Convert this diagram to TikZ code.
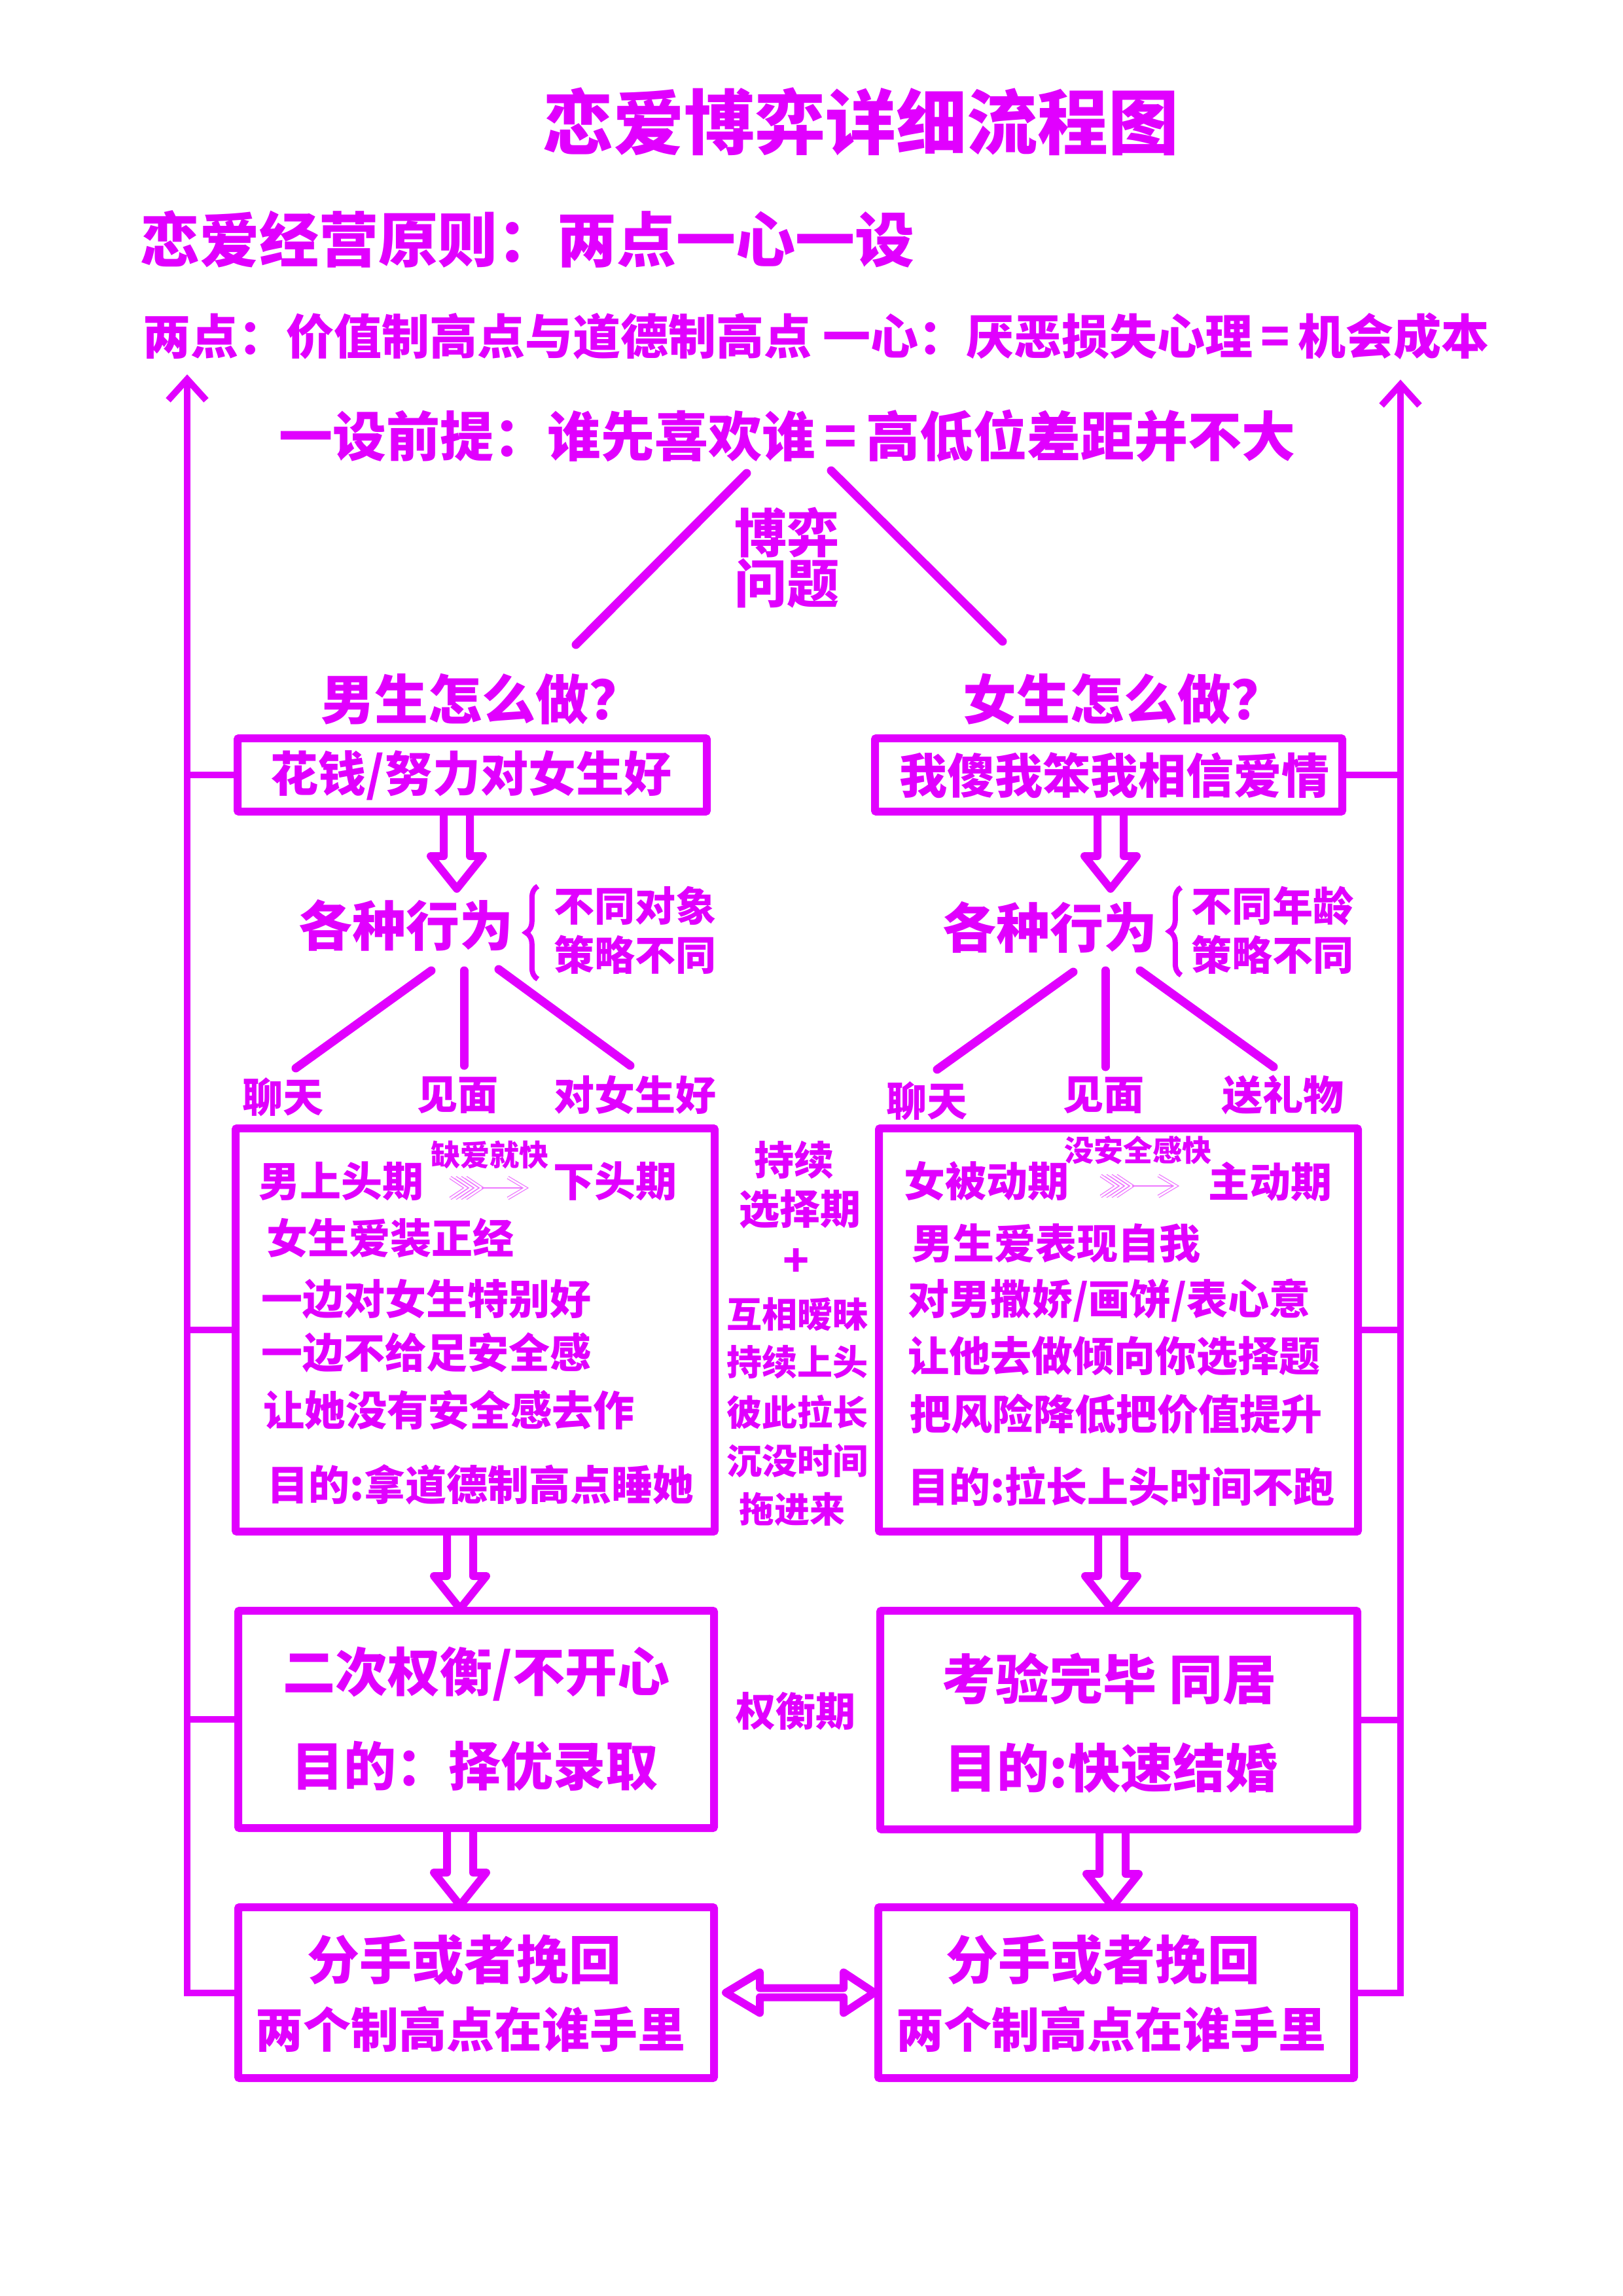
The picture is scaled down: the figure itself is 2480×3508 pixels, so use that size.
\documentclass[tikz,border=0pt]{standalone}
\usepackage{fontspec}
\setmainfont{Noto Sans CJK SC}[BoldFont={Noto Sans CJK SC Black}]
\usetikzlibrary{arrows.meta,decorations.pathreplacing,calc}
\definecolor{mag}{RGB}{225,0,255}
\definecolor{lmag}{RGB}{238,120,255}
\newcommand{\myfs}[1]{\fontsize{#1}{#1}\selectfont}
\begin{document}
\begin{tikzpicture}[x=1pt,y=-1pt,
  t/.style={inner sep=0pt, text=mag, font=\bfseries\myfs{#1}},
  box/.style={draw=mag, line width=12pt, inner sep=0pt, rounded corners=2pt},
  side/.style={draw=mag, line width=10pt},
  br/.style={draw=mag, line width=13pt, line cap=round},
  blk/.style={draw=mag, line width=12pt, line join=round, line cap=round},
  feath/.style={draw=lmag, line width=1.3pt, double=white, double distance=2.6pt},
  blockdown/.pic={\draw[blk] (-20,0) -- (-20,62) -- (-40,62) -- (0,112) -- (40,62) -- (20,62) -- (20,0);},
  feather/.pic={
    \foreach \i in {0,1,2,3} {\draw[feath] (8*\i,-16) -- (8*\i+24,0) -- (8*\i,16);}
    \draw[lmag, line width=2pt] (48,0) -- (114,0);
    \draw[feath] (88,-16) -- (115,0) -- (88,16);
  }
]
\fill[white] (0,0) rectangle (2480,3508);
\useasboundingbox (0,0) rectangle (2480,3508);

% header texts
\node[t=108] (title) at (1315,186) {恋爱博弈详细流程图};
\node[t=91, anchor=west] (principle) at (214,365) {恋爱经营原则：两点一心一设};
\node[t=73] (twopts) at (1247,514) {两点：价值制高点与道德制高点 一心：厌恶损失心理\,=\,机会成本};
\node[t=82] (premise) at (1203,666) {一设前提：谁先喜欢谁\,=\,高低位差距并不大};
\node[t=80, align=center, font=\bfseries\fontsize{80}{74}\selectfont] (game) at (1202,852) {博弈\\问题};
\node[t=82, anchor=west] (maleq) at (490,1068) {男生怎么做？};
\node[t=82, anchor=west] (femq) at (1471,1068) {女生怎么做？};

\draw[br] ([shift={(-62,57)}]premise.center) -- ([shift={(390,-83)}]maleq.west);
\draw[br] ([shift={(67,53)}]premise.center) -- ([shift={(61,-88)}]femq.west);

% first boxes
\node[box, minimum width=717pt, minimum height=112pt] (boxA) at (721.5,1184) {};
\node[t=73] (txtA) at (720,1185) {花钱/努力对女生好};
\node[box, minimum width=714pt, minimum height=112pt] (boxB) at (1694,1184) {};
\node[t=73] (txtB) at (1703,1185) {我傻我笨我相信爱情};

\pic at ([xshift=-23.5pt]boxA.south) {blockdown};
\pic at ([xshift=3pt]boxB.south) {blockdown};

% behaviours
\node[t=82] (behA) at (620,1414) {各种行为};
\node[t=82] (behB) at (1604,1417) {各种行为};
\node[t=62] (diffA1) at (970,1384) {不同对象};
\node[t=62] (diffA2) at (970,1459) {策略不同};
\node[t=62] (diffB1) at (1944,1384) {不同年龄};
\node[t=62] (diffB2) at (1944,1459) {策略不同};
\draw[mag, line width=8pt, decorate, decoration={brace, amplitude=18pt}]
  ([shift={(-24,37)}]diffA2.west) -- ([shift={(-24,-30)}]diffA1.west);
\draw[mag, line width=8pt, decorate, decoration={brace, amplitude=18pt}]
  ([shift={(-15,31)}]diffB2.west) -- ([shift={(-15,-28)}]diffB1.west);

\node[t=62] (chatA) at (432,1676) {聊天};
\node[t=62] (meetA) at (699,1673) {见面};
\node[t=62] (niceA) at (970,1673) {对女生好};
\node[t=62] (chatB) at (1416,1682) {聊天};
\node[t=62] (meetB) at (1686,1673) {见面};
\node[t=62] (giftB) at (1960,1673) {送礼物};

\draw[br] ([shift={(39,69)}]behA.center) -- ([shift={(20,-44)}]chatA.center);
\draw[br] ([shift={(89,69)}]behA.center) -- ([shift={(10,-45)}]meetA.center);
\draw[br] ([shift={(142,67)}]behA.center) -- ([shift={(-7,-45)}]niceA.center);
\draw[br] ([shift={(36,68)}]behB.center) -- ([shift={(16,-48)}]chatB.center);
\draw[br] ([shift={(85,66)}]behB.center) -- ([shift={(3,-43)}]meetB.center);
\draw[br] ([shift={(138,66)}]behB.center) -- ([shift={(-14,-43)}]giftB.center);

% big boxes
\node[box, minimum width=732pt, minimum height=616pt] (boxC) at (726,2032) {};
\node[box, minimum width=732pt, minimum height=616pt] (boxD) at (1709,2032) {};

\node[t=63, anchor=west] (c1) at (395,1805) {男上头期};
\node[t=45] (c1s) at (748,1764) {缺爱就快};
\pic (fa) at (688,1815) {feather};
\node[t=63, anchor=west] (c1b) at (845,1805) {下头期};
\node[t=63, anchor=west] (c2) at (407,1892) {女生爱装正经};
\node[t=63, anchor=west] (c3) at (399,1985) {一边对女生特别好};
\node[t=63, anchor=west] (c4) at (399,2067) {一边不给足安全感};
\node[t=63, anchor=west] (c5) at (402,2155) {让她没有安全感去作};
\node[t=63, anchor=west] (c6) at (408,2268) {目的:拿道德制高点睡她};

\node[t=63, anchor=west] (d1) at (1381,1805) {女被动期};
\node[t=45] (d1s) at (1739,1757) {没安全感快};
\pic (fb) at (1682,1812) {feather};
\node[t=63, anchor=west] (d1b) at (1846,1805) {主动期};
\node[t=63, anchor=west] (d2) at (1393,1900) {男生爱表现自我};
\node[t=63, anchor=west] (d3) at (1387,1987) {对男撒娇/画饼/表心意};
\node[t=63, anchor=west] (d4) at (1387,2072) {让他去做倾向你选择题};
\node[t=63, anchor=west] (d5) at (1390,2160) {把风险降低把价值提升};
\node[t=63, anchor=west] (d6) at (1387,2271) {目的:拉长上头时间不跑};

% middle column
\node[t=61] (m1) at (1213,1772) {持续};
\node[t=62] (m2) at (1222,1847) {选择期};
\node[t=66] (m3) at (1217,1929) {+};
\node[t=54] (m4) at (1218,2008) {互相暧昧};
\node[t=54] (m5) at (1218,2081) {持续上头};
\node[t=54] (m6) at (1218,2157) {彼此拉长};
\node[t=54] (m7) at (1218,2232) {沉没时间};
\node[t=54] (m8) at (1210,2306) {拖进来};
\node[t=61] (m9) at (1216,2614) {权衡期};

\pic at ([xshift=-23pt]boxC.south) {blockdown};
\pic at ([xshift=-11pt]boxD.south) {blockdown};

% second-level boxes
\node[box, minimum width=727pt, minimum height=332pt] (boxE) at (727.5,2627) {};
\node[t=80] (e1) at (728,2558) {二次权衡/不开心};
\node[t=80] (e2) at (725,2698) {目的：择优录取};
\node[box, minimum width=729pt, minimum height=334pt] (boxF) at (1709.5,2628) {};
\node[t=82] (f1) at (1695,2565) {考验完毕 同居};
\node[t=80] (f2) at (1698,2701) {目的:快速结婚};

\pic at ([xshift=-24.5pt]boxE.south) {blockdown};
\pic at ([xshift=-9.5pt]boxF.south) {blockdown};

% bottom boxes
\node[box, minimum width=727pt, minimum height=261pt] (boxG) at (727.5,3044.5) {};
\node[t=80] (g1) at (709,2994) {分手或者挽回};
\node[t=73] (g2) at (719,3100) {两个制高点在谁手里};
\node[box, minimum width=727pt, minimum height=261pt] (boxH) at (1705.5,3044.5) {};
\node[t=80] (h1) at (1685,2994) {分手或者挽回};
\node[t=73] (h2) at (1698,3100) {两个制高点在谁手里};

\draw[blk] ([xshift=12pt]boxG.east) -- ++(52,-31) -- ++(0,24) -- ++(128,0) -- ++(0,-24)
  -- ++(47,31) -- ++(-47,31) -- ++(0,-24) -- ++(-128,0) -- ++(0,24) -- cycle;

% side feedback lines
\coordinate (Ltop) at (286,572);
\coordinate (Rtop) at (2140,580);
\draw[side, -{Straight Barb[length=32pt,width=58pt]}] (boxG.west) -| (Ltop);
\draw[side] (boxA.west) -- (boxA.west -| Ltop);
\draw[side] (boxC.west) -- (boxC.west -| Ltop);
\draw[side] (boxE.west) -- (boxE.west -| Ltop);
\draw[side, -{Straight Barb[length=32pt,width=58pt]}] (boxH.east) -| (Rtop);
\draw[side] (boxB.east) -- (boxB.east -| Rtop);
\draw[side] (boxD.east) -- (boxD.east -| Rtop);
\draw[side] (boxF.east) -- (boxF.east -| Rtop);
\end{tikzpicture}
\end{document}
